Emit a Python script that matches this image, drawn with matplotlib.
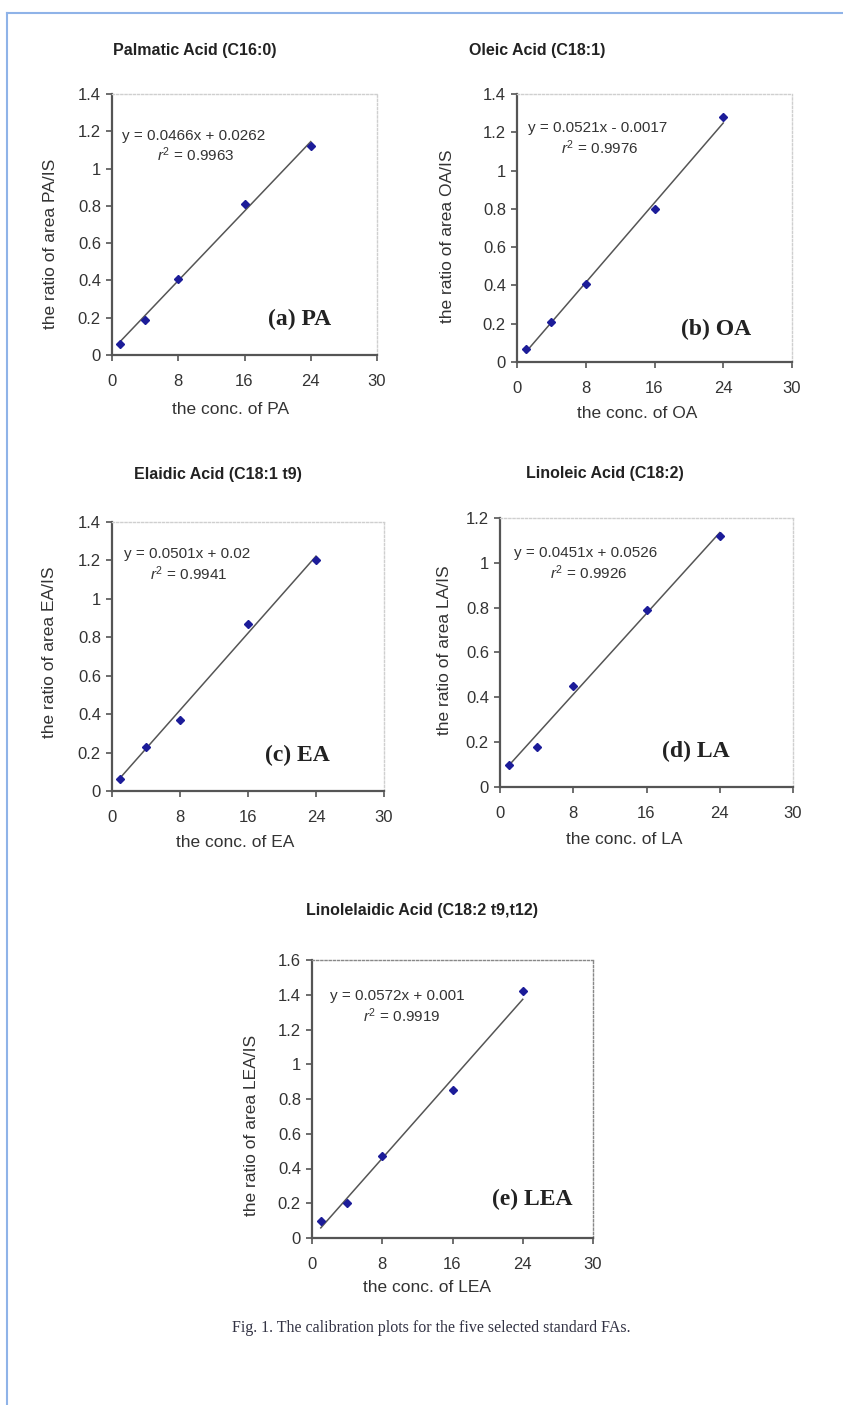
import matplotlib
matplotlib.use("Agg")
import matplotlib.pyplot as plt
import numpy as np
from matplotlib.lines import Line2D

W, H = 843, 1405
fig = plt.figure(figsize=(W / 100, H / 100), dpi=100)

# ---------------- data ----------------
conc = [1, 4, 8, 16, 24]
pa_ratio = [0.06, 0.19, 0.41, 0.81, 1.12]
oa_ratio = [0.07, 0.21, 0.41, 0.80, 1.28]
ea_ratio = [0.06, 0.23, 0.37, 0.87, 1.20]
la_ratio = [0.10, 0.18, 0.45, 0.79, 1.12]
lea_ratio = [0.10, 0.20, 0.47, 0.85, 1.42]

slopes = [0.0466, 0.0521, 0.0501, 0.0451, 0.0572]
intercepts = [0.0262, -0.0017, 0.02, 0.0526, 0.001]
eq_texts = ["y = 0.0466x + 0.0262", "y = 0.0521x - 0.0017", "y = 0.0501x + 0.02",
            "y = 0.0451x + 0.0526", "y = 0.0572x + 0.001"]
r2_texts = ["0.9963", "0.9976", "0.9941", "0.9926", "0.9919"]
titles = ["Palmatic Acid (C16:0)", "Oleic Acid (C18:1)", "Elaidic Acid (C18:1 t9)",
          "Linoleic Acid (C18:2)", "Linolelaidic Acid (C18:2 t9,t12)"]
tags = ["(a) PA", "(b) OA", "(c) EA", "(d) LA", "(e) LEA"]
ylabels = ["the ratio of area PA/IS", "the ratio of area OA/IS", "the ratio of area EA/IS",
           "the ratio of area LA/IS", "the ratio of area LEA/IS"]
xlabels = ["the conc. of PA", "the conc. of OA", "the conc. of EA", "the conc. of LA",
           "the conc. of LEA"]
x_ticks = [0, 8, 16, 24, 32]
x_ticklabels = ["0", "8", "16", "24", "30"]
y_max = [1.4, 1.4, 1.4, 1.2, 1.6]
series = [pa_ratio, oa_ratio, ea_ratio, la_ratio, lea_ratio]
caption = "Fig. 1. The calibration plots for the five selected standard FAs."

# ---------------- layout (pixels) ----------------
axes_box = [(112, 377, 94, 355), (517, 792, 94, 362), (112, 384, 522, 791),
            (500, 793, 518, 787), (312, 593, 960, 1238)]
title_pos = [(195, 50), (537, 50), (218, 475), (605, 473), (422, 910)]
eq_pos = [(122, 136), (528, 128), (124, 554), (514, 553), (330, 996)]
r2_pos = [(196, 155), (600, 148), (189, 574), (589, 573), (402, 1016)]
tag_pos = [(300, 319), (716, 329), (297, 755), (696, 751), (532, 1199)]
ylab_pos = [(51, 244), (448, 236), (50, 652), (445, 650), (252, 1125)]
xlab_pos = [(231, 410), (637, 413), (235, 842), (624, 840), (427, 1288)]


def F(x, y):
    return x / W, 1 - y / H


sans = "Liberation Sans"
serif = "Liberation Serif"

plt.rcParams["mathtext.fontset"] = "custom"
plt.rcParams["mathtext.rm"] = sans
plt.rcParams["mathtext.it"] = sans + ":italic"

txtc = "#333333"

# blue page border
fig.add_artist(Line2D([7 / W, 1], [1 - 13 / H, 1 - 13 / H], color="#8fb3e8", lw=1.5,
                      transform=fig.transFigure))
fig.add_artist(Line2D([7 / W, 7 / W], [1 - 13 / H, 0], color="#8fb3e8", lw=1.5,
                      transform=fig.transFigure))

for i in range(5):
    l, r, t, b = axes_box[i]
    ax = fig.add_axes([l / W, 1 - b / H, (r - l) / W, (b - t) / H])
    ax.set_xlim(0, 32)
    ax.set_ylim(0, y_max[i])
    xs = np.array([min(conc), max(conc)])
    ax.plot(xs, slopes[i] * xs + intercepts[i], color="#555555", lw=1.1, zorder=2)
    ax.plot(conc, series[i], linestyle="none", marker="D", markersize=3.8,
            color="#1c1c99", zorder=3)
    ax.set_xticks(x_ticks)
    ax.set_xticklabels(x_ticklabels)
    yt = np.round(np.arange(0, y_max[i] + 0.01, 0.2), 1)
    ax.set_yticks(yt)
    ax.set_yticklabels([("%g" % v) for v in yt])
    for lab in ax.get_xticklabels() + ax.get_yticklabels():
        lab.set_fontfamily(sans)
        lab.set_fontsize(12)
        lab.set_color(txtc)
    ax.tick_params(direction="out", length=4, width=1.2, color="#555555")
    ax.tick_params(axis="x", pad=10)
    ax.tick_params(axis="y", pad=4)
    for s in ["left", "bottom"]:
        ax.spines[s].set_color("#555555")
        ax.spines[s].set_linewidth(1.6)
    dcol = "#888888" if i == 4 else "#cfcfcf"
    for s in ["top", "right"]:
        ax.spines[s].set_color(dcol)
        ax.spines[s].set_linewidth(1.0)
        ax.spines[s].set_linestyle((0, (1.5, 1.5)))

    fig.text(*F(*title_pos[i]), titles[i], ha="center", va="center", fontsize=11.5,
             fontweight="bold", family=sans, color="#222222")
    fig.text(*F(*eq_pos[i]), eq_texts[i], ha="left", va="center", fontsize=11,
             family=sans, color=txtc)
    fig.text(*F(*r2_pos[i]), r"$\it{r}^{2}$ = " + r2_texts[i], ha="center", va="center",
             fontsize=11, family=sans, color=txtc)
    fig.text(*F(*tag_pos[i]), tags[i], ha="center", va="center", fontsize=17,
             fontweight="bold", family=serif, color="#222222")
    fig.text(*F(*ylab_pos[i]), ylabels[i], ha="center", va="center", rotation=90,
             fontsize=12.5, family=sans, color=txtc)
    fig.text(*F(*xlab_pos[i]), xlabels[i], ha="center", va="center", fontsize=12.5,
             family=sans, color=txtc)

fig.text(*F(431, 1328), caption, ha="center", va="center", fontsize=11.5, family=serif,
         color="#333344")

fig.savefig("out.png", dpi=100)
